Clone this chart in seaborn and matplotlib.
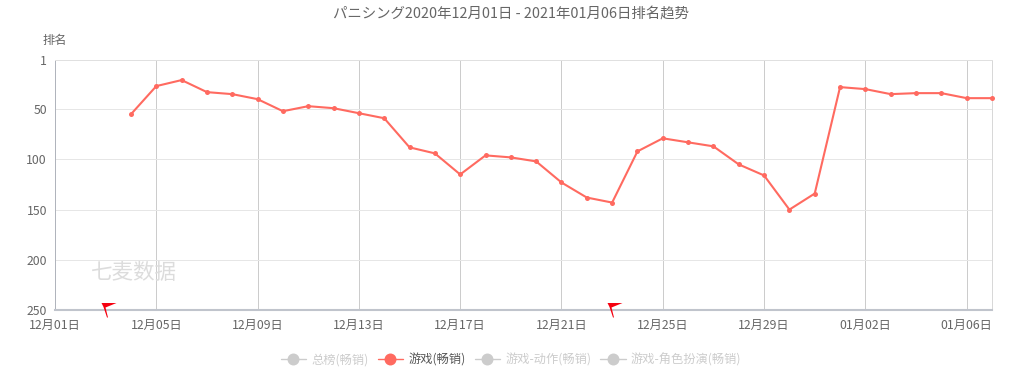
import pandas as pd
import matplotlib
matplotlib.use('Agg')
import matplotlib.pyplot as plt
from matplotlib.lines import Line2D
from matplotlib.path import Path
import seaborn as sns

# dados
datas = ['2020-12-04', '2020-12-05', '2020-12-06', '2020-12-07', '2020-12-08', '2020-12-09', '2020-12-10',
         '2020-12-11', '2020-12-12', '2020-12-13', '2020-12-14', '2020-12-15', '2020-12-16', '2020-12-17',
         '2020-12-18', '2020-12-19', '2020-12-20', '2020-12-21', '2020-12-22', '2020-12-23', '2020-12-24',
         '2020-12-25', '2020-12-26', '2020-12-27', '2020-12-28', '2020-12-29', '2020-12-30', '2020-12-31',
         '2021-01-01', '2021-01-02', '2021-01-03', '2021-01-04', '2021-01-05', '2021-01-06', '2021-01-07']
ranking = [55, 27, 21, 33, 35, 40, 52, 47, 49, 54, 59, 88, 94, 115, 96, 98, 102, 123, 138, 143, 92,
           79, 83, 87, 105, 116, 150, 134, 28, 30, 35, 34, 34, 39, 39]

datas_ticks = ['2020-12-01', '2020-12-05', '2020-12-09', '2020-12-13', '2020-12-17', '2020-12-21',
               '2020-12-25', '2020-12-29', '2021-01-02', '2021-01-06']
labels_ticks = ['12月01日', '12月05日', '12月09日', '12月13日', '12月17日', '12月21日',
                '12月25日', '12月29日', '01月02日', '01月06日']
ranks_ticks = [1, 50, 100, 150, 200, 250]

datas_bandeira = ['2020-12-03', '2020-12-23']
ranks_bandeira = [250, 250]

legenda = ['总榜(畅销)', '游戏(畅销)', '游戏-动作(畅销)', '游戏-角色扮演(畅销)']
legenda_ativa = [False, True, False, False]

titulo = 'パニシング2020年12月01日 - 2021年01月06日排名趋势'
COR = '#ff6a60'
CINZA = '#cccccc'

sns.set_theme(style='white')
plt.rcParams['font.family'] = ['Noto Sans CJK SC', 'DejaVu Sans']

df = pd.DataFrame({'data': pd.to_datetime(datas), 'rank': ranking})
df_bandeira = pd.DataFrame({'data': pd.to_datetime(datas_bandeira), 'rank': ranks_bandeira})

fig = plt.figure(figsize=(10.22, 3.90), dpi=100)
ax = fig.add_axes([55 / 1022, 80 / 390, 937 / 1022, 250 / 390])

sns.lineplot(data=df, x='data', y='rank', color=COR, linewidth=1.5, marker='o', markersize=3.6,
             markeredgewidth=0, clip_on=False, zorder=5, ax=ax)

# bandeirinhas em cima do eixo
bandeira = Path([(-5, 7.5), (10, 7.5), (-1, 3), (1.5, -7), (0.5, -7), (-3, 3.5), (-5, 7.5)], closed=True)
sns.scatterplot(data=df_bandeira, x='data', y='rank', marker=bandeira, s=207, color='#f5000f', linewidth=0,
                clip_on=False, zorder=6, ax=ax)

ax.set_xlim(pd.Timestamp('2020-12-01'), pd.Timestamp('2021-01-07'))
ax.set_ylim(250, 1)
ax.set_xticks(pd.to_datetime(datas_ticks))
ax.set_xticklabels(labels_ticks)
ax.set_yticks(ranks_ticks)
ax.set_xlabel('')
ax.set_ylabel('')
ax.tick_params(axis='both', length=0, labelsize=8.8, labelcolor='#666666')
ax.tick_params(axis='x', pad=6.4)
ax.tick_params(axis='y', pad=5.8)

ax.grid(True, axis='y', color='#e6e6e6', linewidth=0.72)
ax.grid(True, axis='x', color='#cccccc', linewidth=0.72)
ax.set_axisbelow(True)
for lado, cor, larg in [('top', '#e0e0e0', 0.72), ('right', '#d8d8d8', 0.72),
                        ('left', '#b0b4bc', 0.72), ('bottom', '#c0c4cc', 1.5)]:
    ax.spines[lado].set_color(cor)
    ax.spines[lado].set_linewidth(larg)

fig.text(511 / 1022, 1 - 13.5 / 390, titulo, ha='center', va='center', fontsize=10.4, color='#666666')
fig.text(55 / 1022, 1 - 40 / 390, '排名', ha='center', va='center', fontsize=8.8, color='#666666')

# marca d'agua
fig.text(134 / 1022, 1 - 273 / 390, '七麦数据', ha='center', va='center', fontsize=15.5, color='#dcdcdc')

# legenda
handles = [Line2D([], [], color=COR if a else CINZA, linewidth=1, marker='o', markersize=8.6, markeredgewidth=0)
           for a in legenda_ativa]
leg = fig.legend(handles, legenda, loc='center', bbox_to_anchor=(511 / 1022, 1 - 360 / 390), ncols=4, frameon=False,
                 fontsize=8.8, handlelength=2.1, handletextpad=0.4, columnspacing=0.75, borderpad=0, borderaxespad=0)
for txt, a in zip(leg.get_texts(), legenda_ativa):
    txt.set_color('#555555' if a else CINZA)

fig.savefig('out.png', dpi=100)
